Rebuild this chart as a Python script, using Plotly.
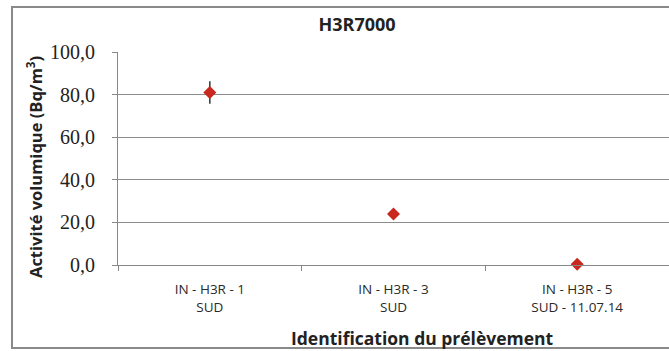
import plotly.graph_objects as go

categories = ["IN - H3R - 1<br>SUD", "IN - H3R - 3<br>SUD", "IN - H3R - 5<br>SUD - 11.07.14"]
values = [81.0, 24.0, 0.4]
errors = [5.3, 0.0, 0.0]
y_ticks = [0, 20, 40, 60, 80, 100]
y_ticktext = ["0,0", "20,0", "40,0", "60,0", "80,0", "100,0"]

W, H = 669, 351
L, R, T, B = 118, 0, 52, 86
PW, PH = W - L - R, H - T - B


def px(x):
    return (x - L) / PW


def py(y):
    return (H - B - y) / PH


fig = go.Figure()
fig.add_trace(go.Scatter(
    x=categories, y=values, mode="markers",
    marker=dict(symbol="diamond", size=10, color="#C8281E"),
    error_y=dict(type="data", array=errors, visible=True, color="#333333", thickness=1.5, width=0),
    showlegend=False, cliponaxis=False,
))

fig.update_layout(
    width=W, height=H,
    margin=dict(l=L, r=R, t=T, b=B),
    paper_bgcolor="white", plot_bgcolor="white",
    title=dict(text="<b>H3R7000</b>", x=357 / W, xref="container", xanchor="center",
               y=1 - 25 / H, yref="container", yanchor="middle",
               font=dict(family="Open Sans, sans-serif", size=18, color="#222222")),
    font=dict(family="Open Sans, sans-serif", color="#333333"),
)
fig.update_xaxes(
    type="category", range=[-0.5, 2.5], tickson="boundaries",
    ticks="outside", ticklen=5, tickcolor="#888888", tickwidth=1,
    showline=True, linecolor="#888888", linewidth=1, showgrid=False,
    tickfont=dict(family="Open Sans, sans-serif", size=13.5, color="#2a2a2a"),
    ticklabelstandoff=12,
    zeroline=False,
)
fig.update_yaxes(
    range=[0, 100], tickvals=y_ticks, ticktext=y_ticktext,
    ticks="outside", ticklen=5, tickcolor="#888888",
    showline=True, linecolor="#888888", linewidth=1,
    showgrid=True, gridcolor="#8c8c8c", gridwidth=1, zeroline=False,
    tickfont=dict(family="Liberation Serif, serif", size=20, color="#222222"),
    ticklabelstandoff=13,
)
fig.add_annotation(text="<b>Activité volumique (Bq/m<sup>3</sup>)</b>", textangle=-90,
                   xref="paper", yref="paper", x=px(35), y=py(167), xanchor="center", yanchor="middle",
                   showarrow=False, font=dict(family="Open Sans, sans-serif", size=16.5, color="#222222"))
fig.add_annotation(text="<b>Identification du prélèvement</b>",
                   xref="paper", yref="paper", x=px(422), y=py(338), xanchor="center", yanchor="middle",
                   showarrow=False, font=dict(family="Open Sans, sans-serif", size=17.5, color="#222222"))
fig.add_shape(type="rect", xref="paper", yref="paper",
              x0=px(12), x1=px(W + 20), y0=py(348), y1=py(7),
              line=dict(color="#8a8a8a", width=2), fillcolor="rgba(0,0,0,0)", layer="below")

fig.write_html("out.html", config={"displayModeBar": False},
               post_script="document.body.style.margin='0';")
